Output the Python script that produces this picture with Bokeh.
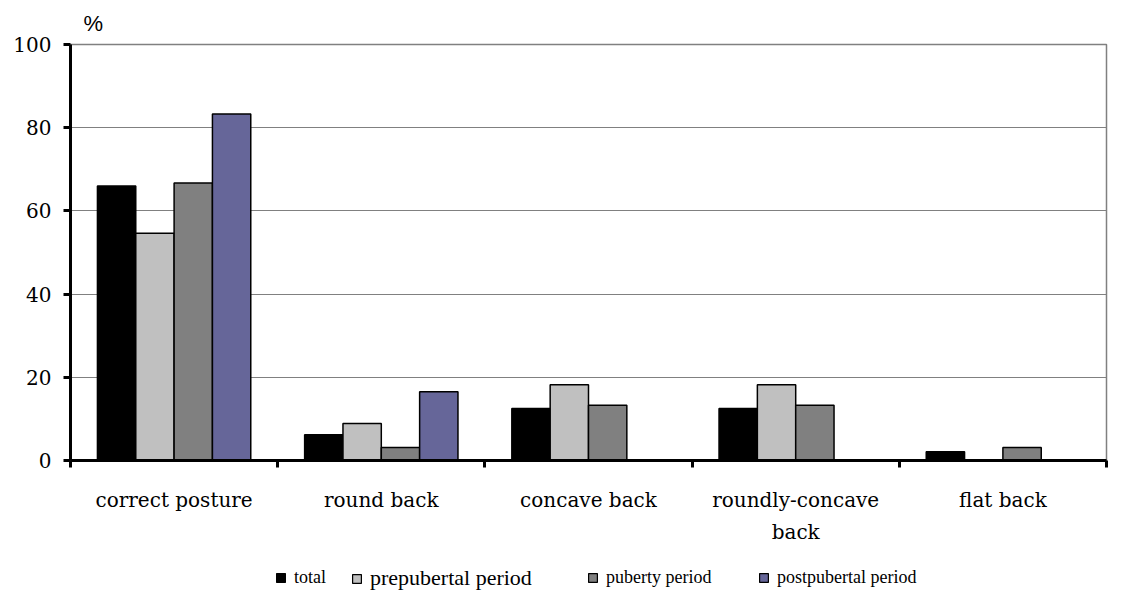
from bokeh.plotting import figure
from bokeh.models import FixedTicker, Legend, LegendItem, ColumnDataSource, Title
from bokeh.layouts import column
from bokeh.embed import file_html
from bokeh.resources import INLINE

categories = ["correct posture", "round back", "concave back", "roundly-concave\nback", "flat back"]
series = ["total", "prepubertal period", "puberty period", "postpubertal period"]
total = [66.0, 6.2, 12.5, 12.5, 2.1]
prepubertal = [54.6, 8.9, 18.2, 18.2, 0.0]
puberty = [66.7, 3.1, 13.3, 13.3, 3.1]
postpubertal = [83.3, 16.5, 0.0, 0.0, 0.0]
colors = ["#000000", "#c0c0c0", "#808080", "#666699"]
y_ticks = [0, 20, 40, 60, 80, 100]

values = [total, prepubertal, puberty, postpubertal]
centers = [i + 0.5 for i in range(len(categories))]
bar_w = 0.185
offsets = [(-1.5 + k) * bar_w for k in range(4)]

SERIF = "DejaVu Serif"

p = figure(width=1122, height=560, x_range=(0, 5), y_range=(0, 100),
           output_backend="svg", toolbar_location=None,
           min_border_left=70, min_border_right=16, min_border_top=43, min_border_bottom=100)
p.background_fill_color = "white"
p.border_fill_color = "white"
p.outline_line_color = "#808080"
p.outline_line_width = 1.5

title = Title(text="%", align="left", offset=13, standoff=17, text_font="Liberation Sans",
              text_font_size="22px", text_font_style="normal", text_color="black")
p.add_layout(title, "above")

sources = []
for k, vals in enumerate(values):
    src = ColumnDataSource(dict(x=[c + offsets[k] for c in centers], top=vals))
    sources.append(src)
    p.vbar(x="x", top="top", bottom=0, width=bar_w, source=src,
           fill_color=colors[k], line_color="black", line_width=1.5)

p.xgrid.visible = False
p.ygrid.grid_line_color = "#808080"
p.ygrid.grid_line_width = 1.2
p.ygrid.ticker = FixedTicker(ticks=y_ticks)

p.yaxis.ticker = FixedTicker(ticks=y_ticks)
p.yaxis.axis_line_width = 3
p.yaxis.axis_line_color = "black"
p.yaxis.major_tick_line_width = 3
p.yaxis.major_tick_out = 7
p.yaxis.major_tick_in = 0
p.yaxis.minor_tick_line_color = None
p.yaxis.major_label_standoff = 12
p.yaxis.major_label_text_font = SERIF
p.yaxis.major_label_text_font_size = "20px"
p.yaxis.major_label_text_color = "black"

p.xaxis.ticker = FixedTicker(ticks=centers, minor_ticks=list(range(len(categories) + 1)))
p.xaxis.major_label_overrides = {c: lab for c, lab in zip(centers, categories)}
p.xaxis.axis_line_width = 3
p.xaxis.axis_line_color = "black"
p.xaxis.major_tick_out = 0
p.xaxis.major_tick_in = 0
p.xaxis.minor_tick_out = 7
p.xaxis.minor_tick_in = 0
p.xaxis.minor_tick_line_width = 3
p.xaxis.minor_tick_line_color = "black"
p.xaxis.major_label_standoff = 20
p.xaxis.major_label_text_font = SERIF
p.xaxis.major_label_text_font_size = "20px"
p.xaxis.major_label_text_line_height = 1.35
p.xaxis.major_label_text_color = "black"

# legend strip below the chart
lp = figure(width=1122, height=36, x_range=(0, 1), y_range=(0, 1),
            output_backend="svg", toolbar_location=None,
            x_axis_type=None, y_axis_type=None, min_border=0)
lp.outline_line_color = None
lp.grid.visible = False
lp.background_fill_color = "white"
lp.border_fill_color = "white"

leg_x = [205, 281, 517, 688]
leg_sizes = ["18px", "22px", "18px", "18px"]
leg_y = [8, 5, 8, 8]
for k in range(4):
    proxy = lp.vbar(x="x", top="top", width=bar_w, source=sources[k],
                    fill_color=colors[k], line_color="black", line_width=1.2,
                    visible=False)
    lg = Legend(items=[LegendItem(label=series[k], renderers=[proxy])],
                location=(leg_x[k], leg_y[k]), orientation="horizontal",
                glyph_width=11, glyph_height=11, label_standoff=8,
                padding=0, margin=0, spacing=0,
                border_line_color=None, background_fill_alpha=0,
                inactive_fill_alpha=0,
                label_text_font="serif", label_text_font_size=leg_sizes[k],
                label_text_color="black")
    lp.add_layout(lg, "center")

layout = column(p, lp, spacing=0)
open("out.html", "w").write(file_html(layout, INLINE))
